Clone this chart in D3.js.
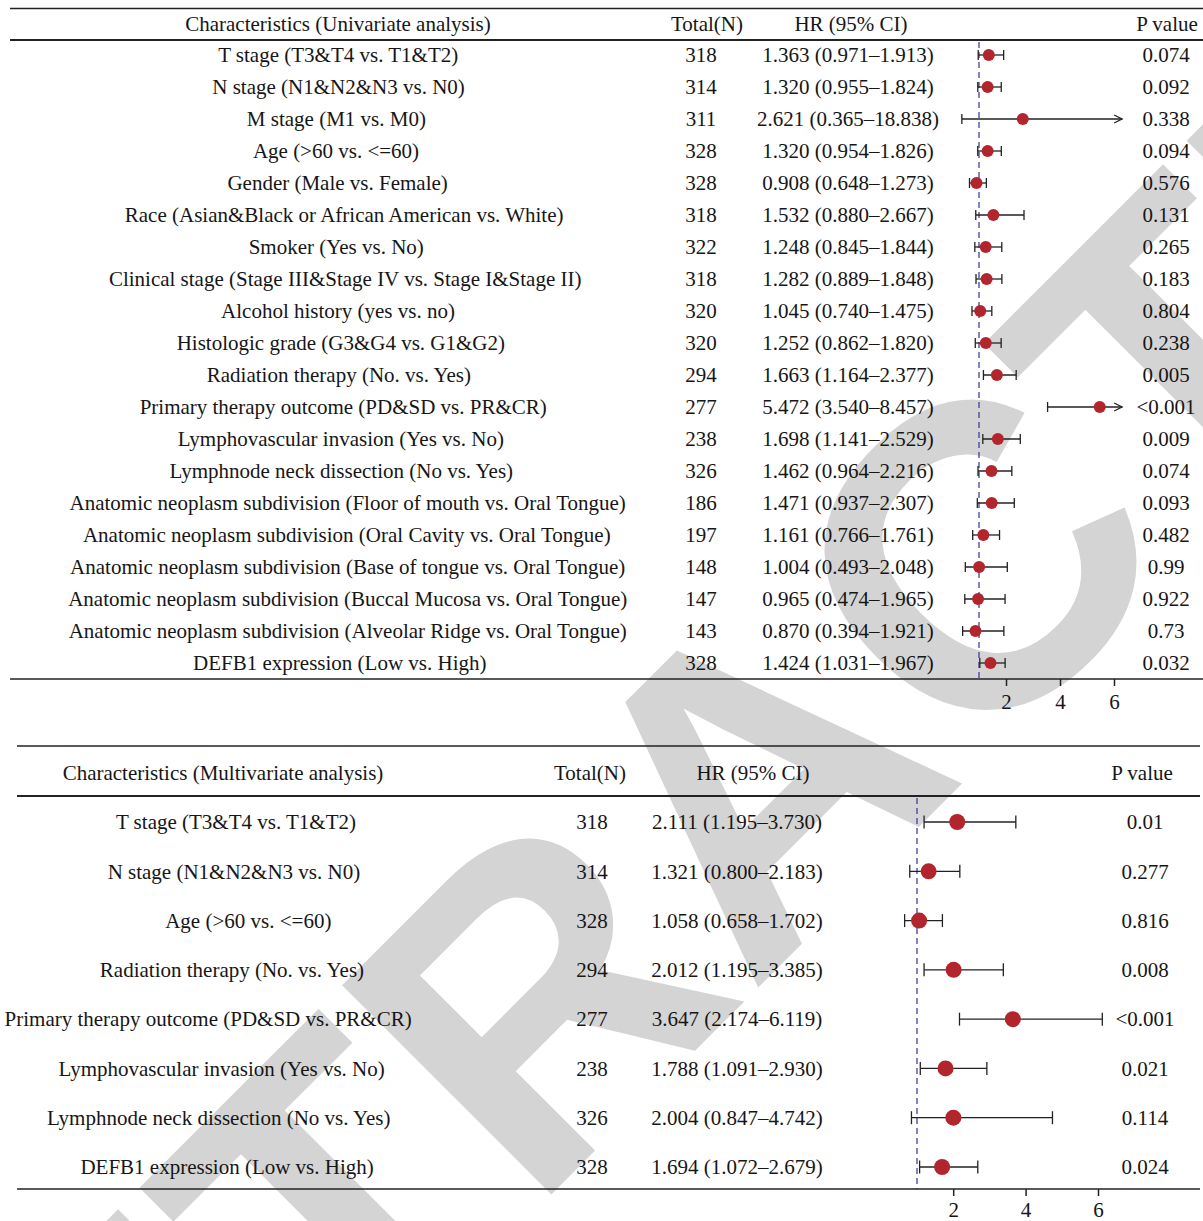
<!DOCTYPE html>
<html>
<head>
<meta charset="utf-8">
<script src="https://cdn.jsdelivr.net/npm/d3@7/dist/d3.min.js"></script>
<style>
body { margin: 0; background: #fff; }
svg text { font-family: "Liberation Serif", "Times New Roman", serif; font-size: 21px; fill: #161616; }
</style>
</head>
<body>
<svg id="chart" width="1203" height="1221"></svg>
<script>
// univariate table
var uniLabels = [
    'T stage (T3&T4 vs. T1&T2)',
    'N stage (N1&N2&N3 vs. N0)',
    'M stage (M1 vs. M0)',
    'Age (>60 vs. <=60)',
    'Gender (Male vs. Female)',
    'Race (Asian&Black or African American vs. White)',
    'Smoker (Yes vs. No)',
    'Clinical stage (Stage III&Stage IV vs. Stage I&Stage II)',
    'Alcohol history (yes vs. no)',
    'Histologic grade (G3&G4 vs. G1&G2)',
    'Radiation therapy (No. vs. Yes)',
    'Primary therapy outcome (PD&SD vs. PR&CR)',
    'Lymphovascular invasion (Yes vs. No)',
    'Lymphnode neck dissection (No vs. Yes)',
    'Anatomic neoplasm subdivision (Floor of mouth vs. Oral Tongue)',
    'Anatomic neoplasm subdivision (Oral Cavity vs. Oral Tongue)',
    'Anatomic neoplasm subdivision (Base of tongue vs. Oral Tongue)',
    'Anatomic neoplasm subdivision (Buccal Mucosa vs. Oral Tongue)',
    'Anatomic neoplasm subdivision (Alveolar Ridge vs. Oral Tongue)',
    'DEFB1 expression (Low vs. High)'
];
var uniN = [318, 314, 311, 328, 328, 318, 322, 318, 320, 320, 294, 277, 238, 326, 186, 197, 148, 147, 143, 328];
var uniHR = [1.363, 1.320, 2.621, 1.320, 0.908, 1.532, 1.248, 1.282, 1.045, 1.252, 1.663, 5.472, 1.698, 1.462, 1.471, 1.161, 1.004, 0.965, 0.870, 1.424];
var uniLow = [0.971, 0.955, 0.365, 0.954, 0.648, 0.880, 0.845, 0.889, 0.740, 0.862, 1.164, 3.540, 1.141, 0.964, 0.937, 0.766, 0.493, 0.474, 0.394, 1.031];
var uniHigh = [1.913, 1.824, 18.838, 1.826, 1.273, 2.667, 1.844, 1.848, 1.475, 1.820, 2.377, 8.457, 2.529, 2.216, 2.307, 1.761, 2.048, 1.965, 1.921, 1.967];
var uniP = ['0.074', '0.092', '0.338', '0.094', '0.576', '0.131', '0.265', '0.183', '0.804', '0.238', '0.005', '<0.001', '0.009', '0.074', '0.093', '0.482', '0.99', '0.922', '0.73', '0.032'];

// multivariate table
var multiLabels = [
    'T stage (T3&T4 vs. T1&T2)',
    'N stage (N1&N2&N3 vs. N0)',
    'Age (>60 vs. <=60)',
    'Radiation therapy (No. vs. Yes)',
    'Primary therapy outcome (PD&SD vs. PR&CR)',
    'Lymphovascular invasion (Yes vs. No)',
    'Lymphnode neck dissection (No vs. Yes)',
    'DEFB1 expression (Low vs. High)'
];
var multiN = [318, 314, 328, 294, 277, 238, 326, 328];
var multiHR = [2.111, 1.321, 1.058, 2.012, 3.647, 1.788, 2.004, 1.694];
var multiLow = [1.195, 0.800, 0.658, 1.195, 2.174, 1.091, 0.847, 1.072];
var multiHigh = [3.730, 2.183, 1.702, 3.385, 6.119, 2.930, 4.742, 2.679];
var multiP = ['0.01', '0.277', '0.816', '0.008', '<0.001', '0.021', '0.114', '0.024'];

var axisTicks = [2, 4, 6];

var svg = d3.select('#chart');
var dotColor = '#b3252d';
var dashColor = '#40409a';

// watermark, behind everything
svg.append('text')
    .attr('x', 0).attr('y', 0)
    .attr('transform', 'translate(755,780) rotate(-45)')
    .attr('text-anchor', 'middle')
    .attr('dominant-baseline', 'central')
    .style('font-family', '"Liberation Sans", Arial, sans-serif')
    .style('font-weight', 'bold')
    .style('font-size', '430px')
    .style('fill', '#d4d4d4')
    .text('RETRACTED');

var defs = svg.append('defs');
defs.append('marker')
    .attr('id', 'arrow')
    .attr('viewBox', '-10 -6 12 12')
    .attr('refX', 0).attr('refY', 0)
    .attr('markerWidth', 12).attr('markerHeight', 12)
    .attr('markerUnits', 'userSpaceOnUse')
    .attr('orient', 'auto')
    .append('path')
    .attr('d', 'M-8,-4L0,0L-8,4')
    .attr('fill', 'none')
    .attr('stroke', '#222')
    .attr('stroke-width', 1.3);

function hrText(hr, lo, hi) {
    return hr.toFixed(3) + ' (' + lo.toFixed(3) + '\u2013' + hi.toFixed(3) + ')';
}

function drawTable(cfg) {
    var g = svg.append('g');
    var rows = d3.range(cfg.labels.length);
    var y = d3.scalePoint().domain(rows).range(cfg.rowRange);
    var x = d3.scaleLinear().domain([1, 6]).range(cfg.xRange);

    // rules
    g.append('line').attr('x1', cfg.left).attr('x2', cfg.right)
        .attr('y1', cfg.topLine).attr('y2', cfg.topLine)
        .attr('stroke', '#222').attr('stroke-width', 1.5);
    g.append('line').attr('x1', cfg.left).attr('x2', cfg.right)
        .attr('y1', cfg.headLine).attr('y2', cfg.headLine)
        .attr('stroke', '#222').attr('stroke-width', 2);

    // headers
    var heads = [
        {t: cfg.title, x: cfg.hx[0]},
        {t: 'Total(N)', x: cfg.hx[1]},
        {t: 'HR (95% CI)', x: cfg.hx[2]},
        {t: 'P value', x: cfg.hx[3]}
    ];
    g.selectAll('text.head').data(heads).join('text')
        .attr('class', 'head')
        .attr('x', function(d) { return d.x; })
        .attr('y', cfg.headY)
        .attr('dy', '0.35em')
        .attr('text-anchor', 'middle')
        .text(function(d) { return d.t; });

    // labels
    g.selectAll('text.lab').data(rows).join('text')
        .attr('class', 'lab')
        .attr('y', function(i) { return y(i); })
        .attr('dy', '0.35em')
        .attr('text-anchor', 'middle')
        .text(function(i) { return cfg.labels[i]; })
        .attr('x', function() { return cfg.labelX(this.getComputedTextLength()); });

    g.selectAll('text.n').data(rows).join('text')
        .attr('x', cfg.cx[0])
        .attr('y', function(i) { return y(i); })
        .attr('dy', '0.35em')
        .attr('text-anchor', 'middle')
        .text(function(i) { return cfg.n[i]; });

    g.selectAll('text.hr').data(rows).join('text')
        .attr('x', cfg.cx[1])
        .attr('y', function(i) { return y(i); })
        .attr('dy', '0.35em')
        .attr('text-anchor', 'middle')
        .text(function(i) { return hrText(cfg.hr[i], cfg.lo[i], cfg.hi[i]); });

    g.selectAll('text.p').data(rows).join('text')
        .attr('x', cfg.cx[2])
        .attr('y', function(i) { return y(i); })
        .attr('dy', '0.35em')
        .attr('text-anchor', 'middle')
        .text(function(i) { return cfg.p[i]; });

    // reference line at HR = 1
    g.append('line')
        .attr('x1', x(1)).attr('x2', x(1))
        .attr('y1', cfg.headLine + 2).attr('y2', cfg.bottomLine)
        .attr('stroke', dashColor).attr('stroke-width', 1.3)
        .attr('stroke-dasharray', '6,4');

    // whiskers
    var ci = g.selectAll('g.ci').data(rows).join('g');
    ci.append('line')
        .attr('x1', function(i) { return x(cfg.lo[i]); })
        .attr('x2', function(i) { return x(Math.min(cfg.hi[i], cfg.clip)); })
        .attr('y1', function(i) { return y(i); })
        .attr('y2', function(i) { return y(i); })
        .attr('stroke', '#222').attr('stroke-width', 1.3)
        .attr('marker-end', function(i) { return cfg.hi[i] > cfg.clip ? 'url(#arrow)' : null; });
    ci.append('line')
        .attr('x1', function(i) { return x(cfg.lo[i]); })
        .attr('x2', function(i) { return x(cfg.lo[i]); })
        .attr('y1', function(i) { return y(i) - cfg.cap; })
        .attr('y2', function(i) { return y(i) + cfg.cap; })
        .attr('stroke', '#222').attr('stroke-width', 1.3);
    ci.filter(function(i) { return cfg.hi[i] <= cfg.clip; }).append('line')
        .attr('x1', function(i) { return x(cfg.hi[i]); })
        .attr('x2', function(i) { return x(cfg.hi[i]); })
        .attr('y1', function(i) { return y(i) - cfg.cap; })
        .attr('y2', function(i) { return y(i) + cfg.cap; })
        .attr('stroke', '#222').attr('stroke-width', 1.3);
    ci.append('circle')
        .attr('cx', function(i) { return x(cfg.hr[i]); })
        .attr('cy', function(i) { return y(i); })
        .attr('r', cfg.r)
        .attr('fill', dotColor);

    // bottom rule + axis
    g.append('line').attr('x1', cfg.left).attr('x2', cfg.right)
        .attr('y1', cfg.bottomLine).attr('y2', cfg.bottomLine)
        .attr('stroke', '#222').attr('stroke-width', 1.5);
    var ax = g.append('g')
        .attr('transform', 'translate(0,' + cfg.bottomLine + ')')
        .call(d3.axisBottom(x).tickValues(axisTicks).tickSize(7).tickPadding(cfg.pad).tickFormat(d3.format('d')));
    ax.select('.domain').remove();
    ax.selectAll('.tick line').attr('stroke', '#222').attr('stroke-width', 1.5);
    ax.selectAll('.tick text')
        .style('font-family', '"Liberation Serif", "Times New Roman", serif')
        .style('font-size', '21px')
        .attr('fill', '#161616');
}

drawTable({
    title: 'Characteristics (Univariate analysis)',
    labels: uniLabels, n: uniN, hr: uniHR, lo: uniLow, hi: uniHigh, p: uniP,
    left: 10, right: 1203,
    topLine: 8.5, headLine: 40, bottomLine: 679, headY: 24,
    rowRange: [55, 663],
    xRange: [979, 1114],
    clip: 6.3,
    hx: [338, 707, 851, 1167],
    cx: [701, 848, 1166],
    labelX: function(w) { return 331 + 0.03 * w; },
    r: 6, cap: 5, pad: 8
});

drawTable({
    title: 'Characteristics (Multivariate analysis)',
    labels: multiLabels, n: multiN, hr: multiHR, lo: multiLow, hi: multiHigh, p: multiP,
    left: 17, right: 1200,
    topLine: 746, headLine: 796, bottomLine: 1189, headY: 773,
    rowRange: [822, 1167],
    xRange: [917, 1098],
    clip: 100,
    hx: [223, 590, 753, 1142],
    cx: [592, 737, 1145],
    labelX: function(w) { return 276 - w / 6; },
    r: 8, cap: 6.5, pad: 6
});
</script>
</body>
</html>
